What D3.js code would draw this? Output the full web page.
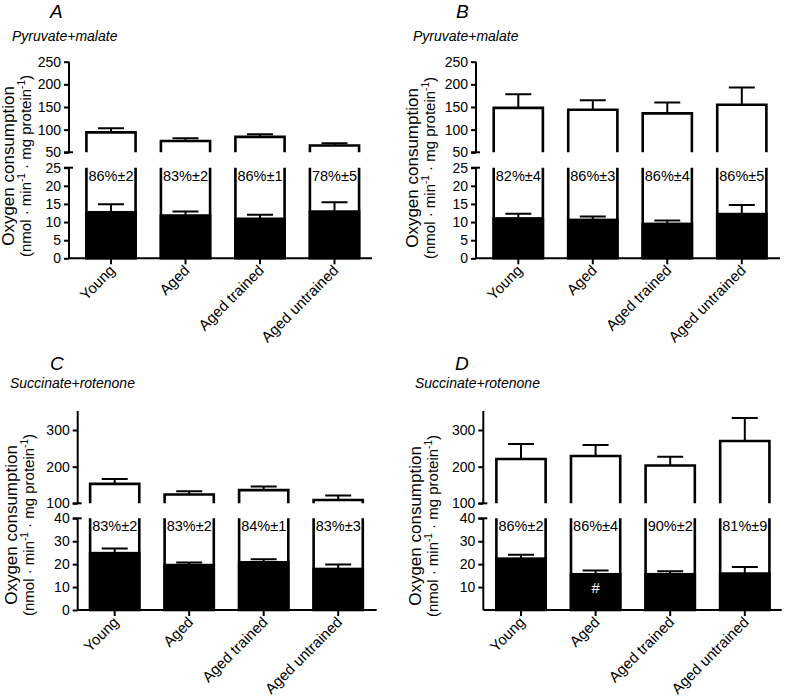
<!DOCTYPE html>
<html>
<head>
<meta charset="utf-8">
<script src="https://cdn.jsdelivr.net/npm/d3@7"></script>
<style>
  html, body { margin: 0; padding: 0; background: #fff; }
  svg { display: block; }
  text { font-family: "Liberation Sans", Arial, Helvetica, sans-serif; fill: #000; }
</style>
</head>
<body>
<svg id="chart" width="787" height="700"></svg>
<script>
// ---------------- data ----------------
const categories = ["Young", "Aged", "Aged trained", "Aged untrained"];

// Panel A: pyruvate+malate
const totalA = [94, 75, 84, 65];
const totalErrA = [9, 6, 6, 5];
const partA = [12.7, 11.8, 10.9, 12.9];
const partErrA = [2.2, 1.1, 1.1, 2.6];
const pctA = ["86%±2", "83%±2", "86%±1", "78%±5"];

// Panel B: pyruvate+malate
const totalB = [148, 144, 136, 155];
const totalErrB = [30, 21, 24, 38];
const partB = [11.0, 10.6, 9.5, 12.2];
const partErrB = [1.3, 0.9, 0.9, 2.5];
const pctB = ["82%±4", "86%±3", "86%±4", "86%±5"];

// Panel C: succinate+rotenone
const totalC = [153, 124, 136, 109];
const totalErrC = [13, 9, 10, 12];
const partC = [24.8, 19.6, 20.8, 17.9];
const partErrC = [2.0, 1.1, 1.3, 1.9];
const pctC = ["83%±2", "83%±2", "84%±1", "83%±3"];

// Panel D: succinate+rotenone
const totalD = [221, 229, 203, 270];
const totalErrD = [41, 30, 24, 63];
const partD = [22.4, 15.6, 15.6, 15.9];
const partErrD = [1.7, 1.6, 1.3, 2.9];
const pctD = ["86%±2", "86%±4", "90%±2", "81%±9"];
const markD = ["", "#", "", ""];

const upperTicksPM = [50, 100, 150, 200, 250];
const lowerTicksPM = [0, 5, 10, 15, 20, 25];
const upperTicksSR = [100, 200, 300];
const lowerTicksC = [0, 10, 20, 30, 40];
const lowerTicksD = [10, 20, 30, 40];

// ---------------- layout ----------------
const panels = [
  { letter: "A", sub: "Pyruvate+malate", letterX: 50, letterY: 18, subX: 12, subY: 41,
    axisX: 69, xEnd: 372, firstC: 111, step: 74.5,
    upDom: [50, 250], upRange: [152.3, 61.7], upTop: 250, upTicks: upperTicksPM,
    loDom: [0, 25], loRange: [258.3, 167.7], loTicks: lowerTicksPM,
    total: totalA, totalErr: totalErrA, part: partA, partErr: partErrA, pct: pctA, mark: null,
    t1x: 14, t2x: 31, tY: 166 },
  { letter: "B", sub: "Pyruvate+malate", letterX: 456, letterY: 18, subX: 413, subY: 41,
    axisX: 476, xEnd: 780, firstC: 518.3, step: 74.5,
    upDom: [50, 250], upRange: [152.3, 61.7], upTop: 250, upTicks: upperTicksPM,
    loDom: [0, 25], loRange: [258.3, 167.7], loTicks: lowerTicksPM,
    total: totalB, totalErr: totalErrB, part: partB, partErr: partErrB, pct: pctB, mark: null,
    t1x: 418, t2x: 435, tY: 168 },
  { letter: "C", sub: "Succinate+rotenone", letterX: 50, letterY: 370, subX: 10, subY: 388,
    axisX: 77.7, xEnd: 376.7, firstC: 114.7, step: 74.5,
    upDom: [100, 300], upRange: [503.3, 430], upTop: 352, upTicks: upperTicksSR,
    loDom: [0, 40], loRange: [610, 518.3], loTicks: lowerTicksC,
    total: totalC, totalErr: totalErrC, part: partC, partErr: partErrC, pct: pctC, mark: null,
    t1x: 17, t2x: 34, tY: 525 },
  { letter: "D", sub: "Succinate+rotenone", letterX: 455, letterY: 370, subX: 415, subY: 388,
    axisX: 483.3, xEnd: 781.7, firstC: 521, step: 74.6,
    upDom: [100, 300], upRange: [503.3, 430], upTop: 352, upTicks: upperTicksSR,
    loDom: [0, 40], loRange: [610, 518.3], loTicks: lowerTicksD,
    total: totalD, totalErr: totalErrD, part: partD, partErr: partErrD, pct: pctD, mark: markD,
    t1x: 421, t2x: 438, tY: 526 }
];

const svg = d3.select("#chart");
const BAR_STROKE = 2.6;
const AX_STROKE = 2;
const CAP = 26;

panels.forEach(p => {
  const g = svg.append("g");

  const x = d3.scaleBand().domain(categories)
    .range([p.firstC - p.step / 2, p.firstC - p.step / 2 + 4 * p.step])
    .paddingInner(0.34).paddingOuter(0.17);
  const yUp = d3.scaleLinear().domain(p.upDom).range(p.upRange);
  const yLo = d3.scaleLinear().domain(p.loDom).range(p.loRange);
  const upBottom = yUp(p.upDom[0]);
  const loTop = yLo(p.loDom[1]);
  const loBottom = yLo(0);

  // panel letter & subtitle
  g.append("text").attr("x", p.letterX).attr("y", p.letterY)
    .attr("font-size", 19).attr("font-style", "italic").text(p.letter);
  g.append("text").attr("x", p.subX).attr("y", p.subY)
    .attr("font-size", 14).attr("font-style", "italic").text(p.sub);

  // y title
  const yt = g.append("g").attr("transform", `rotate(-90)`);
  yt.append("text").attr("x", -p.tY).attr("y", p.t1x).attr("text-anchor", "middle")
    .attr("font-size", 17).text("Oxygen consumption");
  const l2 = yt.append("text").attr("x", -p.tY).attr("y", p.t2x).attr("text-anchor", "middle")
    .attr("font-size", 15);
  l2.append("tspan").text("(nmol · min");
  l2.append("tspan").attr("dy", -6).attr("font-size", 10).text("-1");
  l2.append("tspan").attr("dy", 6).text(" · mg protein");
  l2.append("tspan").attr("dy", -6).attr("font-size", 10).text("-1");
  l2.append("tspan").attr("dy", 6).text(")");

  // ---------- upper section: white bars (totals) ----------
  const up = g.append("g");
  up.selectAll("path.bar").data(categories).join("path")
    .attr("fill", "#fff").attr("stroke", "#000").attr("stroke-width", BAR_STROKE)
    .attr("d", (c, i) => {
      const x0 = x(c), x1 = x(c) + x.bandwidth();
      const yt = yUp(p.total[i]);
      return `M${x0},${upBottom}V${yt}H${x1}V${upBottom}`;
    });
  up.selectAll("path.err").data(categories).join("path")
    .attr("fill", "none").attr("stroke", "#000").attr("stroke-width", AX_STROKE)
    .attr("d", (c, i) => {
      const cx = x(c) + x.bandwidth() / 2;
      const y0 = yUp(p.total[i]), y1 = yUp(p.total[i] + p.totalErr[i]);
      return `M${cx},${y0}V${y1}M${cx - CAP / 2},${y1}H${cx + CAP / 2}`;
    });

  // ---------- lower section ----------
  const lo = g.append("g");
  lo.selectAll("path.outline").data(categories).join("path")
    .attr("fill", "#fff").attr("stroke", "#000").attr("stroke-width", BAR_STROKE)
    .attr("d", c => {
      const x0 = x(c), x1 = x(c) + x.bandwidth();
      return `M${x0},${loBottom}V${loTop}M${x1},${loTop}V${loBottom}`;
    });
  lo.selectAll("rect.part").data(categories).join("rect")
    .attr("fill", "#000").attr("stroke", "#000").attr("stroke-width", BAR_STROKE)
    .attr("x", c => x(c)).attr("width", x.bandwidth())
    .attr("y", (c, i) => yLo(p.part[i]))
    .attr("height", (c, i) => loBottom - yLo(p.part[i]));
  lo.selectAll("path.err").data(categories).join("path")
    .attr("fill", "none").attr("stroke", "#000").attr("stroke-width", AX_STROKE)
    .attr("d", (c, i) => {
      const cx = x(c) + x.bandwidth() / 2;
      const y0 = yLo(p.part[i]), y1 = yLo(p.part[i] + p.partErr[i]);
      return `M${cx},${y0}V${y1}M${cx - CAP / 2},${y1}H${cx + CAP / 2}`;
    });
  lo.selectAll("text.pct").data(categories).join("text")
    .attr("x", c => x(c) + x.bandwidth() / 2).attr("y", loTop + 13)
    .attr("text-anchor", "middle").attr("font-size", 14.5)
    .text((c, i) => p.pct[i]);
  if (p.mark) {
    lo.selectAll("text.mark").data(categories).join("text")
      .attr("x", c => x(c) + x.bandwidth() / 2).attr("y", yLo(7.6))
      .attr("text-anchor", "middle").attr("font-size", 15)
      .style("fill", "#fff")
      .text((c, i) => p.mark[i]);
  }

  // ---------- axes ----------
  const axUp = g.append("g").attr("transform", `translate(${p.axisX},0)`)
    .call(d3.axisLeft(yUp).tickValues(p.upTicks).tickSize(5).tickPadding(3).tickSizeOuter(0));
  axUp.select(".domain").attr("d", `M0,${yUp(p.upTop)}V${upBottom}`);
  axUp.append("path").attr("d", `M-5,${upBottom}H4`);

  const axLo = g.append("g").attr("transform", `translate(${p.axisX},0)`)
    .call(d3.axisLeft(yLo).tickValues(p.loTicks).tickSize(5).tickPadding(3).tickSizeOuter(0));
  axLo.select(".domain").attr("d", `M0,${loTop}V${loBottom}`);
  axLo.append("path").attr("d", `M-5,${loTop}H4`);

  const axX = g.append("g").attr("transform", `translate(0,${loBottom})`)
    .call(d3.axisBottom(x).tickSize(6).tickSizeOuter(0).tickFormat(""));
  axX.select(".domain").attr("d", `M${p.axisX},0H${p.xEnd}`);

  [axUp, axLo, axX].forEach(a => {
    a.selectAll("path, line").attr("stroke", "#000").attr("stroke-width", AX_STROKE);
    a.selectAll("text").attr("font-size", 14).attr("font-family", null);
  });

  // rotated category labels
  g.selectAll("text.cat").data(categories).join("text")
    .attr("text-anchor", "end").attr("font-size", 15)
    .attr("transform", c => `translate(${x(c) + x.bandwidth() / 2 + 5},${loBottom + 13}) rotate(-45)`)
    .text(c => c);
});
</script>
</body>
</html>
